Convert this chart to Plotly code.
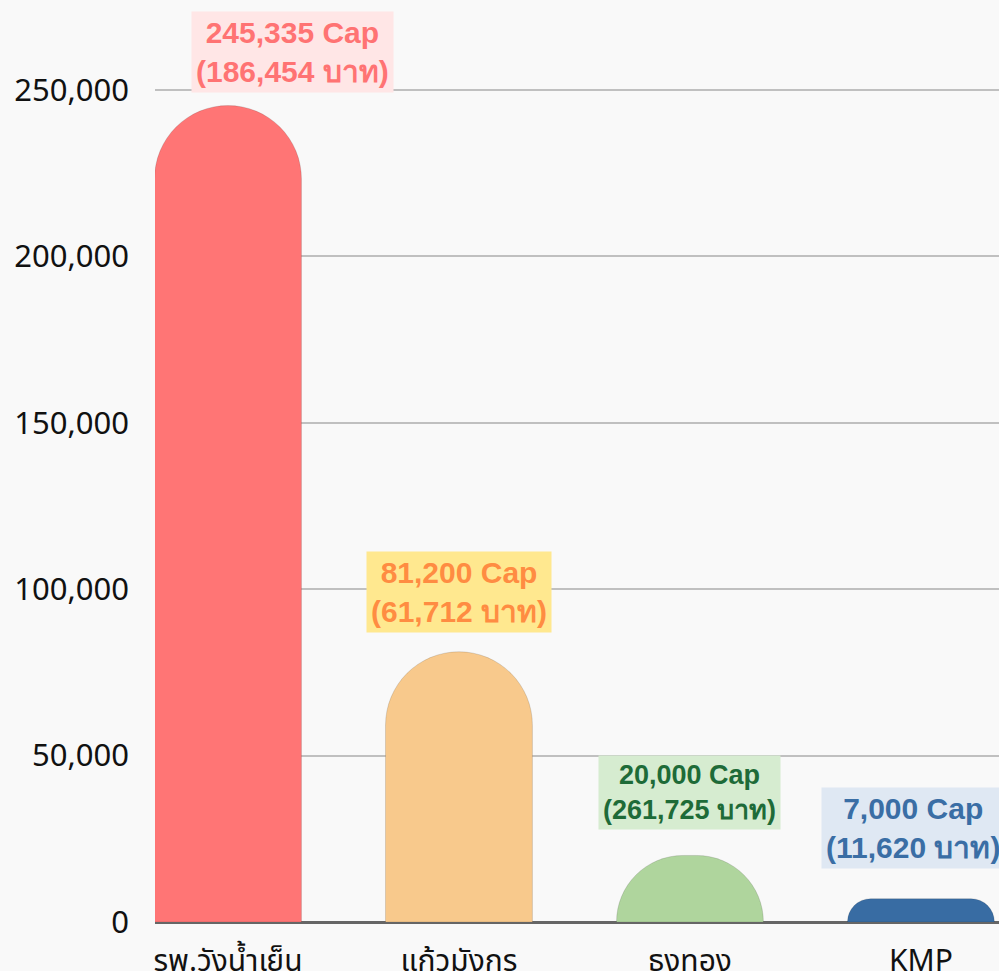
import plotly.graph_objects as go

categories = ["รพ.วังน้ำเย็น", "แก้วมังกร", "ธงทอง", "KMP"]
cap_values = [245335, 81200, 20000, 7000]
baht_values = [186454, 61712, 261725, 11620]
bar_colors = ["#ff7575", "#f8c98c", "#afd59d", "#386ca3"]
label_text_colors = ["#ff7373", "#ff8c42", "#1e6b38", "#3a6ea5"]
label_bg_colors = ["#ffe6e6", "#ffe88f", "#d6ecd0", "#dfe8f3"]
label_font_sizes = [30, 30, 27, 30]
label_xshift = [65, 0, 0, -8]
label_yshift = [13, 19, 25, 30]
y_ticks = [0, 50000, 100000, 150000, 200000, 250000]

x_idx = list(range(len(categories)))

fig = go.Figure()
fig.add_trace(go.Bar(
    x=x_idx, y=cap_values,
    marker=dict(color=bar_colors, cornerradius="50%",
                line=dict(width=0.5, color="rgba(0,0,0,0.25)")),
    width=0.636,
    hoverinfo="skip",
))

for i, (c, b) in enumerate(zip(cap_values, baht_values)):
    fig.add_annotation(
        x=i, y=c, xref="x", yref="y",
        text=f"<b>{c:,} Cap<br>({b:,} บาท)</b>",
        showarrow=False, yanchor="bottom", yshift=label_yshift[i], xshift=label_xshift[i],
        font=dict(family="Liberation Sans, Arial, sans-serif", size=label_font_sizes[i],
                  color=label_text_colors[i]),
        bgcolor=label_bg_colors[i], borderpad=4,
    )

fig.update_layout(
    width=999, height=971,
    margin=dict(l=155, r=0, t=10, b=49),
    paper_bgcolor="#f9f9f9", plot_bgcolor="#f9f9f9",
    showlegend=False,
    font=dict(family="Noto Sans, Noto Sans Thai, sans-serif", size=30, color="#111111"),
    xaxis=dict(
        tickmode="array", tickvals=x_idx, ticktext=categories,
        range=[-0.316, 3.338], showgrid=False, zeroline=False,
        showline=False, ticks="", ticklabelstandoff=18, automargin=False,
    ),
    yaxis=dict(
        range=[0, 274038], tickvals=y_ticks,
        tickformat=",", showgrid=True, gridcolor="#c0c0c0", gridwidth=2,
        zeroline=True, zerolinecolor="#666666", zerolinewidth=3,
        ticks="", ticklabelstandoff=25, tickfont=dict(size=31), automargin=False,
    ),
)

fig.write_html(
    "out.html",
    config={"displayModeBar": False},
    post_script="document.body.style.margin='0';document.body.style.background='#f9f9f9';",
)
